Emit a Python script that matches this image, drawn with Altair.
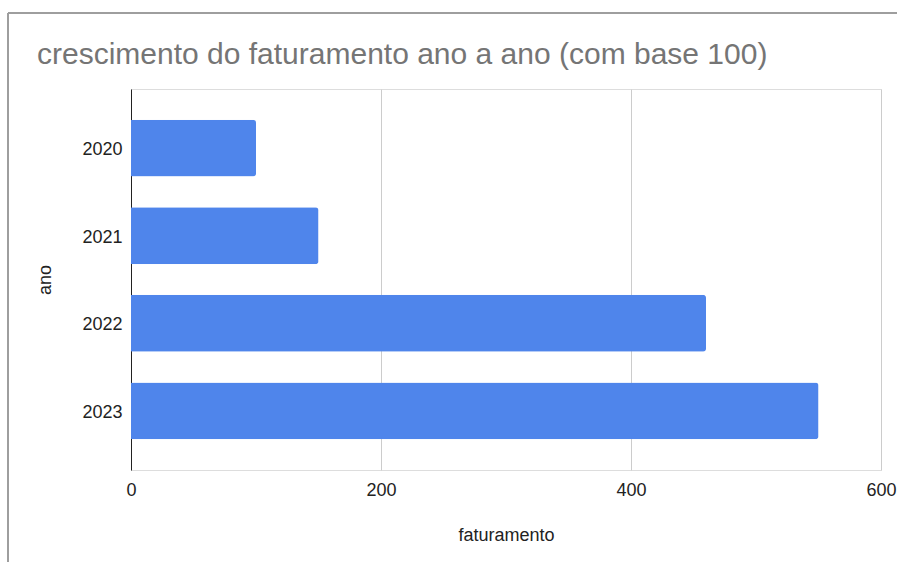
import altair as alt
import pandas as pd

anos = ["2020", "2021", "2022", "2023"]
faturamento = [100, 150, 460, 550]
x_ticks = [0, 200, 400, 600]

df = pd.DataFrame({"ano": anos, "faturamento": faturamento})

FONT = "Liberation Sans"
OX, OY = 131, 89  # plot origin within page

bars = alt.Chart(df).mark_bar(color="#4f85eb", cornerRadiusEnd=3).encode(
    x=alt.X(
        "faturamento:Q",
        scale=alt.Scale(domain=[0, 600], nice=False),
        axis=alt.Axis(
            values=x_ticks,
            title="faturamento",
            grid=True,
            gridColor="#cccccc",
            domain=False,
            ticks=False,
            labelFlush=False,
            labelFont=FONT,
            labelFontSize=18,
            labelColor="#222222",
            labelPadding=11,
            titleFont=FONT,
            titleFontSize=18,
            titleFontWeight="normal",
            titleColor="#222222",
            titlePadding=27,
        ),
    ),
    y=alt.Y(
        "ano:N",
        sort=anos,
        scale=alt.Scale(paddingInner=0.35, paddingOuter=0.35),
        axis=alt.Axis(
            title="ano",
            domain=True,
            domainColor="#222222",
            domainWidth=1,
            ticks=False,
            labelFont=FONT,
            labelFontSize=18,
            labelColor="#222222",
            labelPadding=9,
            labelOffset=2,
            titleFont=FONT,
            titleFontSize=18,
            titleFontWeight="normal",
            titleColor="#222222",
            titlePadding=27,
        ),
    ),
)

border_top = alt.Chart(df).mark_rule(color="#9e9e9e", strokeWidth=1.5).encode(
    x=alt.value(8 - OX), x2=alt.value(897 - OX), y=alt.value(13 - OY)
)
border_left = alt.Chart(df).mark_rule(color="#9e9e9e", strokeWidth=1.5).encode(
    x=alt.value(8 - OX), y=alt.value(13 - OY), y2=alt.value(562 - OY)
)

chart = (
    alt.layer(border_top, border_left, bars)
    .properties(
        width=750,
        height=381,
        autosize=alt.AutoSizeParams(type="none"),
        padding={"left": OX, "top": OY, "right": 16, "bottom": 92},
        title=alt.TitleParams(
            "crescimento do faturamento ano a ano (com base 100)",
            anchor="start",
            frame="group",
            font=FONT,
            fontSize=30,
            fontWeight="normal",
            color="#757575",
            baseline="alphabetic",
            dx=-94,
            dy=82,
            offset=0,
        ),
    )
    .configure_view(strokeWidth=0, stroke="transparent")
    .configure(background="white")
)

chart.save("out.html", embed_options={"renderer": "svg", "actions": False})
